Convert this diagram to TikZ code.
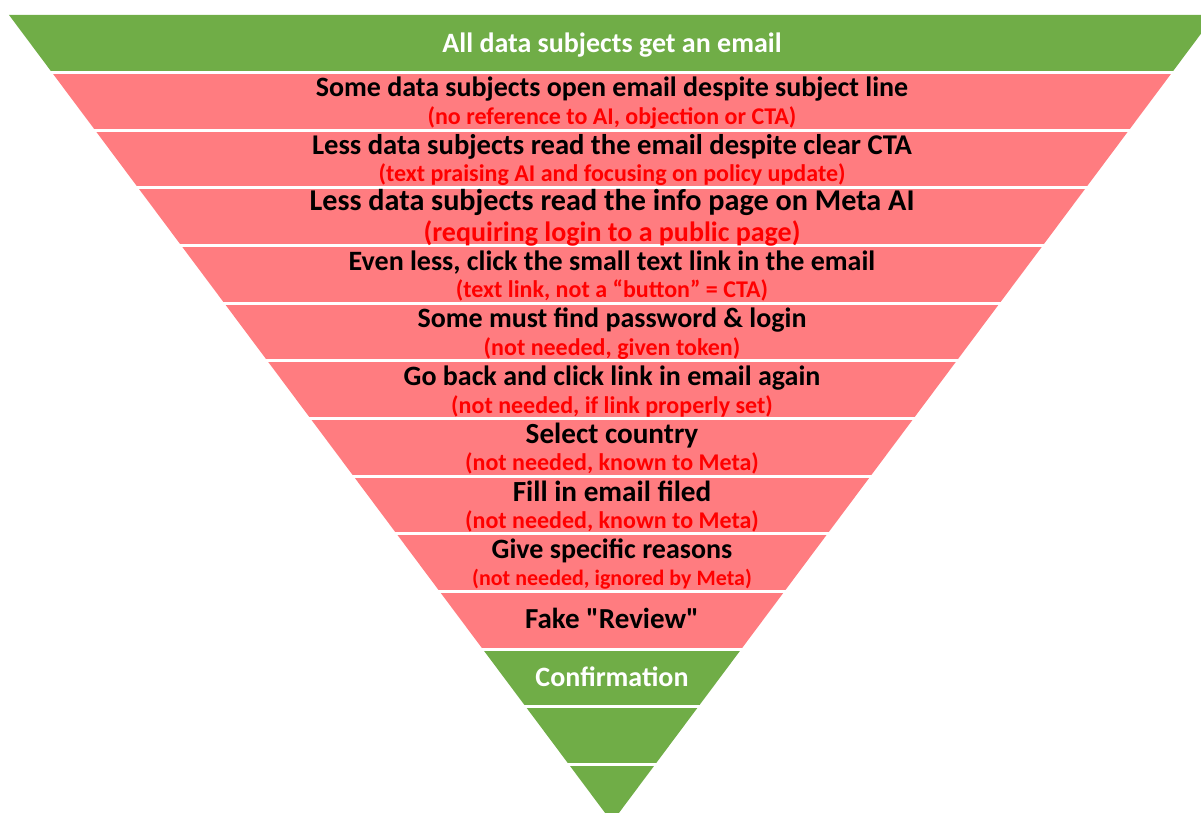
\documentclass[tikz,border=0pt]{standalone}
\usepackage{fontspec}
\setmainfont{Carlito}[Ligatures=TeXOff]
\definecolor{fgreen}{HTML}{70AD47}
\definecolor{fred}{HTML}{FF7C80}
\definecolor{tred}{HTML}{FF0000}
\tikzset{
  maintext/.style={anchor=base, font=\fontsize{28}{32}\selectfont\bfseries, text=black, inner sep=0pt},
  subtext/.style={anchor=base, font=\fontsize{24}{28}\selectfont\bfseries, text=tred, inner sep=0pt},
  whitetext/.style={anchor=base, font=\fontsize{28}{32}\selectfont\bfseries, text=white, inner sep=0pt},
  gapline/.style={white, line width=2.8pt}
}
\begin{document}
\begin{tikzpicture}[x=1pt,y=-1pt]
\useasboundingbox (0,0) rectangle (1201,813);
\clip (0,0) rectangle (1201,813);
\def\ax{612}\def\ay{822.2}\def\sl{0.747}\def\hh{57.67}\def\tt{14.83}
\foreach \k in {0,...,13}{
  \pgfmathsetmacro\ya{\tt+\hh*\k}
  \pgfmathsetmacro\yb{\tt+\hh*(\k+1)}
  \pgfmathsetmacro\la{\ax-\sl*(\ay-\ya)}
  \pgfmathsetmacro\ra{\ax+\sl*(\ay-\ya)}
  \pgfmathsetmacro\lb{\ax-\sl*(\ay-\yb)}
  \pgfmathsetmacro\rb{\ax+\sl*(\ay-\yb)}
  \ifnum\k=0 \def\col{fgreen}\else\ifnum\k>10 \def\col{fgreen}\else\def\col{fred}\fi\fi
  \fill[\col] (\la,\ya) -- (\ra,\ya) -- (\rb,\yb) -- (\lb,\yb) -- cycle;
}
\foreach \k in {1,...,13}{
  \pgfmathsetmacro\yg{\tt+\hh*\k}
  \draw[gapline] (0,\yg) -- (1201,\yg);
}
% texts
\node[whitetext] (t0) at (612,53) {All data subjects get an email};
\node[maintext] (m1) at (612,97) {Some data subjects open email despite subject line};
\node[subtext] (s1) at (612,124.7) {(no reference to AI, objection or CTA)};
\node[maintext, font=\fontsize{28.6}{32}\selectfont\bfseries] (m2) at (612,154.9) {Less data subjects read the email despite clear CTA};
\node[subtext] (s2) at (612,181.5) {(text praising AI and focusing on policy update)};
\node[maintext, font=\fontsize{30.2}{34}\selectfont\bfseries] (m3) at (612,210.5) {Less data subjects read the info page on Meta AI};
\node[subtext, font=\fontsize{28}{32}\selectfont\bfseries] (s3) at (612,241.8) {(requiring login to a public page)};
\node[maintext] (m4) at (612,270) {Even less, click the small text link in the email};
\node[subtext] (s4) at (612,297.7) {(text link, not a “button” = CTA)};
\node[maintext] (m5) at (612,327.7) {Some must find password \& login};
\node[subtext] (s5) at (612,355.4) {(not needed, given token)};
\node[maintext] (m6) at (612,385.4) {Go back and click link in email again};
\node[subtext] (s6) at (612,413.1) {(not needed, if link properly set)};
\node[maintext, font=\fontsize{29.2}{33}\selectfont\bfseries] (m7) at (612,443.3) {Select country};
\node[subtext] (s7) at (612,470.7) {(not needed, known to Meta)};
\node[maintext, font=\fontsize{29.2}{33}\selectfont\bfseries] (m8) at (612,501) {Fill in email filed};
\node[subtext] (s8) at (612,528.4) {(not needed, known to Meta)};
\node[maintext] (m9) at (612,558.4) {Give specific reasons};
\node[subtext, font=\fontsize{22}{26}\selectfont\bfseries] (s9) at (612,585.2) {(not needed, ignored by Meta)};
\node[maintext, font=\fontsize{29}{33}\selectfont\bfseries] (m10) at (612,628.3) {Fake "Review"};
\node[whitetext] (c11) at (612,686.3) {Confirmation};
\end{tikzpicture}
\end{document}
